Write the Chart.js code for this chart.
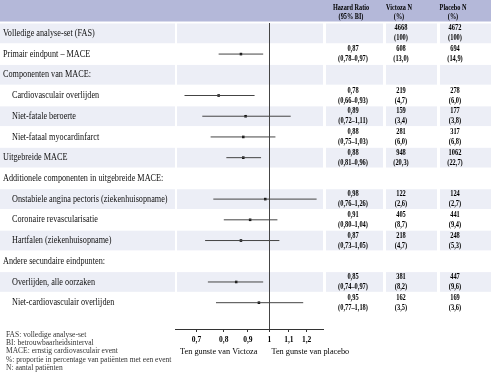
<!DOCTYPE html>
<html>
<head>
<meta charset="utf-8">
<script src="https://cdn.jsdelivr.net/npm/chart.js@4/dist/chart.umd.min.js"></script>
<style>
html, body { margin: 0; padding: 0; background: #fff; }
#wrap { width: 491px; height: 375px; }
</style>
</head>
<body>
<div id="wrap"><canvas id="forest" width="491" height="375"></canvas></div>
<script>
// forest plot - hazard ratios Victoza vs placebo (log x axis)

const rowLabels = [
    'Volledige analyse-set (FAS)',
    'Primair eindpunt – MACE',
    'Componenten van MACE:',
    'Cardiovasculair overlijden',
    'Niet-fatale beroerte',
    'Niet-fataal myocardinfarct',
    'Uitgebreide MACE',
    'Additionele componenten in uitgebreide MACE:',
    'Onstabiele angina pectoris (ziekenhuisopname)',
    'Coronaire revascularisatie',
    'Hartfalen (ziekenhuisopname)',
    'Andere secundaire eindpunten:',
    'Overlijden, alle oorzaken',
    'Niet-cardiovasculair overlijden'
];
const subRows = [3, 4, 5, 8, 9, 10, 12, 13];

const hr     = [null, 0.87, null, 0.78, 0.89, 0.88, 0.88, null, 0.98, 0.91, 0.87, null, 0.85, 0.95];
const ciLow  = [null, 0.78, null, 0.66, 0.72, 0.75, 0.81, null, 0.76, 0.80, 0.73, null, 0.74, 0.77];
const ciHigh = [null, 0.97, null, 0.93, 1.11, 1.03, 0.96, null, 1.26, 1.04, 1.05, null, 0.97, 1.18];

const victozaN   = [4668, 608, null, 219, 159, 281, 948, null, 122, 405, 218, null, 381, 162];
const victozaPct = [100, 13.0, null, 4.7, 3.4, 6.0, 20.3, null, 2.6, 8.7, 4.7, null, 8.2, 3.5];
const placeboN   = [4672, 694, null, 278, 177, 317, 1062, null, 124, 441, 248, null, 447, 169];
const placeboPct = [100, 14.9, null, 6.0, 3.8, 6.8, 22.7, null, 2.7, 9.4, 5.3, null, 9.6, 3.6];

const xTicks = [0.7, 0.8, 0.9, 1, 1.1, 1.2];
const headers = [['Hazard Ratio', '(95% BI)'], ['Victoza N', '(%)'], ['Placebo N', '(%)']];
const favours = ['Ten gunste van Victoza', 'Ten gunste van placebo'];
const footnotes = [
    'FAS: volledige analyse-set',
    'BI: betrouwbaarheidsinterval',
    'MACE: ernstig cardiovasculair event',
    '%: proportie in percentage van patiënten met een event',
    'N: aantal patiënten'
];

const FONT = '"Liberation Serif", "Times New Roman", serif';
const stripe = '#eceef6';
const headBg = '#b4b8d9';
const colCentre = [353, 401, 455];
const cellEdges = [[0, 175], [177, 323], [326, 383], [386, 437], [440, 491]];

function comma(v, d) { return v.toFixed(d).replace('.', ','); }
function pct(v) { return v === 100 ? '(100)' : '(' + comma(v, 1) + ')'; }

function txt(ctx, s, x, y, o) {
    ctx.save();
    ctx.font = (o.bold ? 'bold ' : '') + o.size + 'px ' + FONT;
    ctx.fillStyle = o.color || '#000';
    ctx.textAlign = o.align || 'left';
    ctx.textBaseline = 'middle';
    ctx.translate(x, y);
    ctx.scale(o.sx || 1, 1);
    ctx.fillText(s, 0, 0);
    ctx.restore();
}

// CI segments: one line dataset, gaps between rows
const ciPoints = [];
hr.forEach((v, i) => {
    if (v == null) return;
    ciPoints.push({ x: ciLow[i], y: i }, { x: ciHigh[i], y: i }, { x: null, y: null });
});
const hrPoints = hr.map((v, i) => v == null ? { x: null, y: null } : { x: v, y: i });

const tablePlugin = {
    id: 'table',
    beforeDraw(chart) {
        const { ctx, scales: { y } } = chart;
        ctx.save();
        ctx.fillStyle = '#fff';
        ctx.fillRect(0, 0, chart.width, chart.height);
        const top = y.getPixelForValue(-0.5);
        ctx.fillStyle = headBg;
        ctx.fillRect(0, 0, chart.width, top - 1.5);
        ctx.fillStyle = stripe;
        rowLabels.forEach((_, i) => {
            if (i % 2) return;
            const a = y.getPixelForValue(i - 0.5), b = y.getPixelForValue(i + 0.5);
            cellEdges.forEach(([l, r]) => ctx.fillRect(l, a + 0.5, r - l, b - a - 1));
        });
        ctx.restore();
    },
    afterDraw(chart) {
        const { ctx, scales: { x, y } } = chart;
        const top = y.getPixelForValue(-0.5);
        // header
        headers.forEach((h, c) => {
            txt(ctx, h[0], colCentre[c] - 2, top / 2 - 4, { size: 8, bold: true, align: 'center', sx: 0.78 });
            txt(ctx, h[1], colCentre[c] - 2, top / 2 + 5, { size: 8, bold: true, align: 'center', sx: 0.78 });
        });
        // rows
        rowLabels.forEach((lab, i) => {
            const cy = y.getPixelForValue(i);
            txt(ctx, lab, subRows.includes(i) ? 12 : 3, cy, { size: 10, sx: 0.82, color: '#111' });
            const o = { size: 8, bold: true, align: 'center', sx: 0.8 };
            if (hr[i] != null) {
                txt(ctx, comma(hr[i], 2), colCentre[0], cy - 5, o);
                txt(ctx, '(' + comma(ciLow[i], 2) + '–' + comma(ciHigh[i], 2) + ')', colCentre[0], cy + 5, o);
            }
            if (victozaN[i] != null) {
                txt(ctx, String(victozaN[i]), colCentre[1], cy - 5, o);
                txt(ctx, pct(victozaPct[i]), colCentre[1], cy + 5, o);
                txt(ctx, String(placeboN[i]), colCentre[2], cy - 5, o);
                txt(ctx, pct(placeboPct[i]), colCentre[2], cy + 5, o);
            }
        });
        // favours labels under the axis
        const one = x.getPixelForValue(1);
        const fy = x.bottom - 23;
        txt(ctx, favours[0], one - 12, fy, { size: 9, sx: 0.92, align: 'right' });
        txt(ctx, favours[1], one + 2, fy, { size: 9, sx: 0.92 });
        // footnotes
        footnotes.forEach((f, k) => txt(ctx, f, 6, 335 + k * 8.2, { size: 7.5, color: '#333' }));
    }
};

new Chart(document.getElementById('forest'), {
    type: 'scatter',
    data: {
        datasets: [
            { data: ciPoints, showLine: true, spanGaps: false, borderColor: '#444', borderWidth: 1, pointRadius: 0 },
            { data: hrPoints, pointStyle: 'rect', pointRadius: 1.8, backgroundColor: '#000', borderWidth: 0 }
        ]
    },
    options: {
        responsive: false,
        animation: false,
        layout: { padding: { left: 175, right: 168, top: 23, bottom: 0 } },
        plugins: { legend: { display: false }, tooltip: { enabled: false } },
        scales: {
            x: {
                type: 'logarithmic', min: 0.63, max: 1.3,
                afterBuildTicks: s => { s.ticks = xTicks.map(v => ({ value: v })); },
                afterFit: s => { s.height = 46; },
                grid: {
                    color: c => (c.tick && c.tick.value === 1) ? '#444' : 'rgba(0,0,0,0)',
                    lineWidth: 1, drawTicks: true, tickLength: 3, tickColor: '#333'
                },
                border: { display: true, color: '#333', width: 1 },
                ticks: {
                    color: '#000', padding: 4, maxRotation: 0, autoSkip: false,
                    font: { family: FONT, size: 7.5, weight: 'bold' },
                    callback: v => String(v).replace('.', ',')
                }
            },
            y: { type: 'linear', reverse: true, min: -0.5, max: 14.27, display: false }
        }
    },
    plugins: [tablePlugin]
});
</script>
</body>
</html>
